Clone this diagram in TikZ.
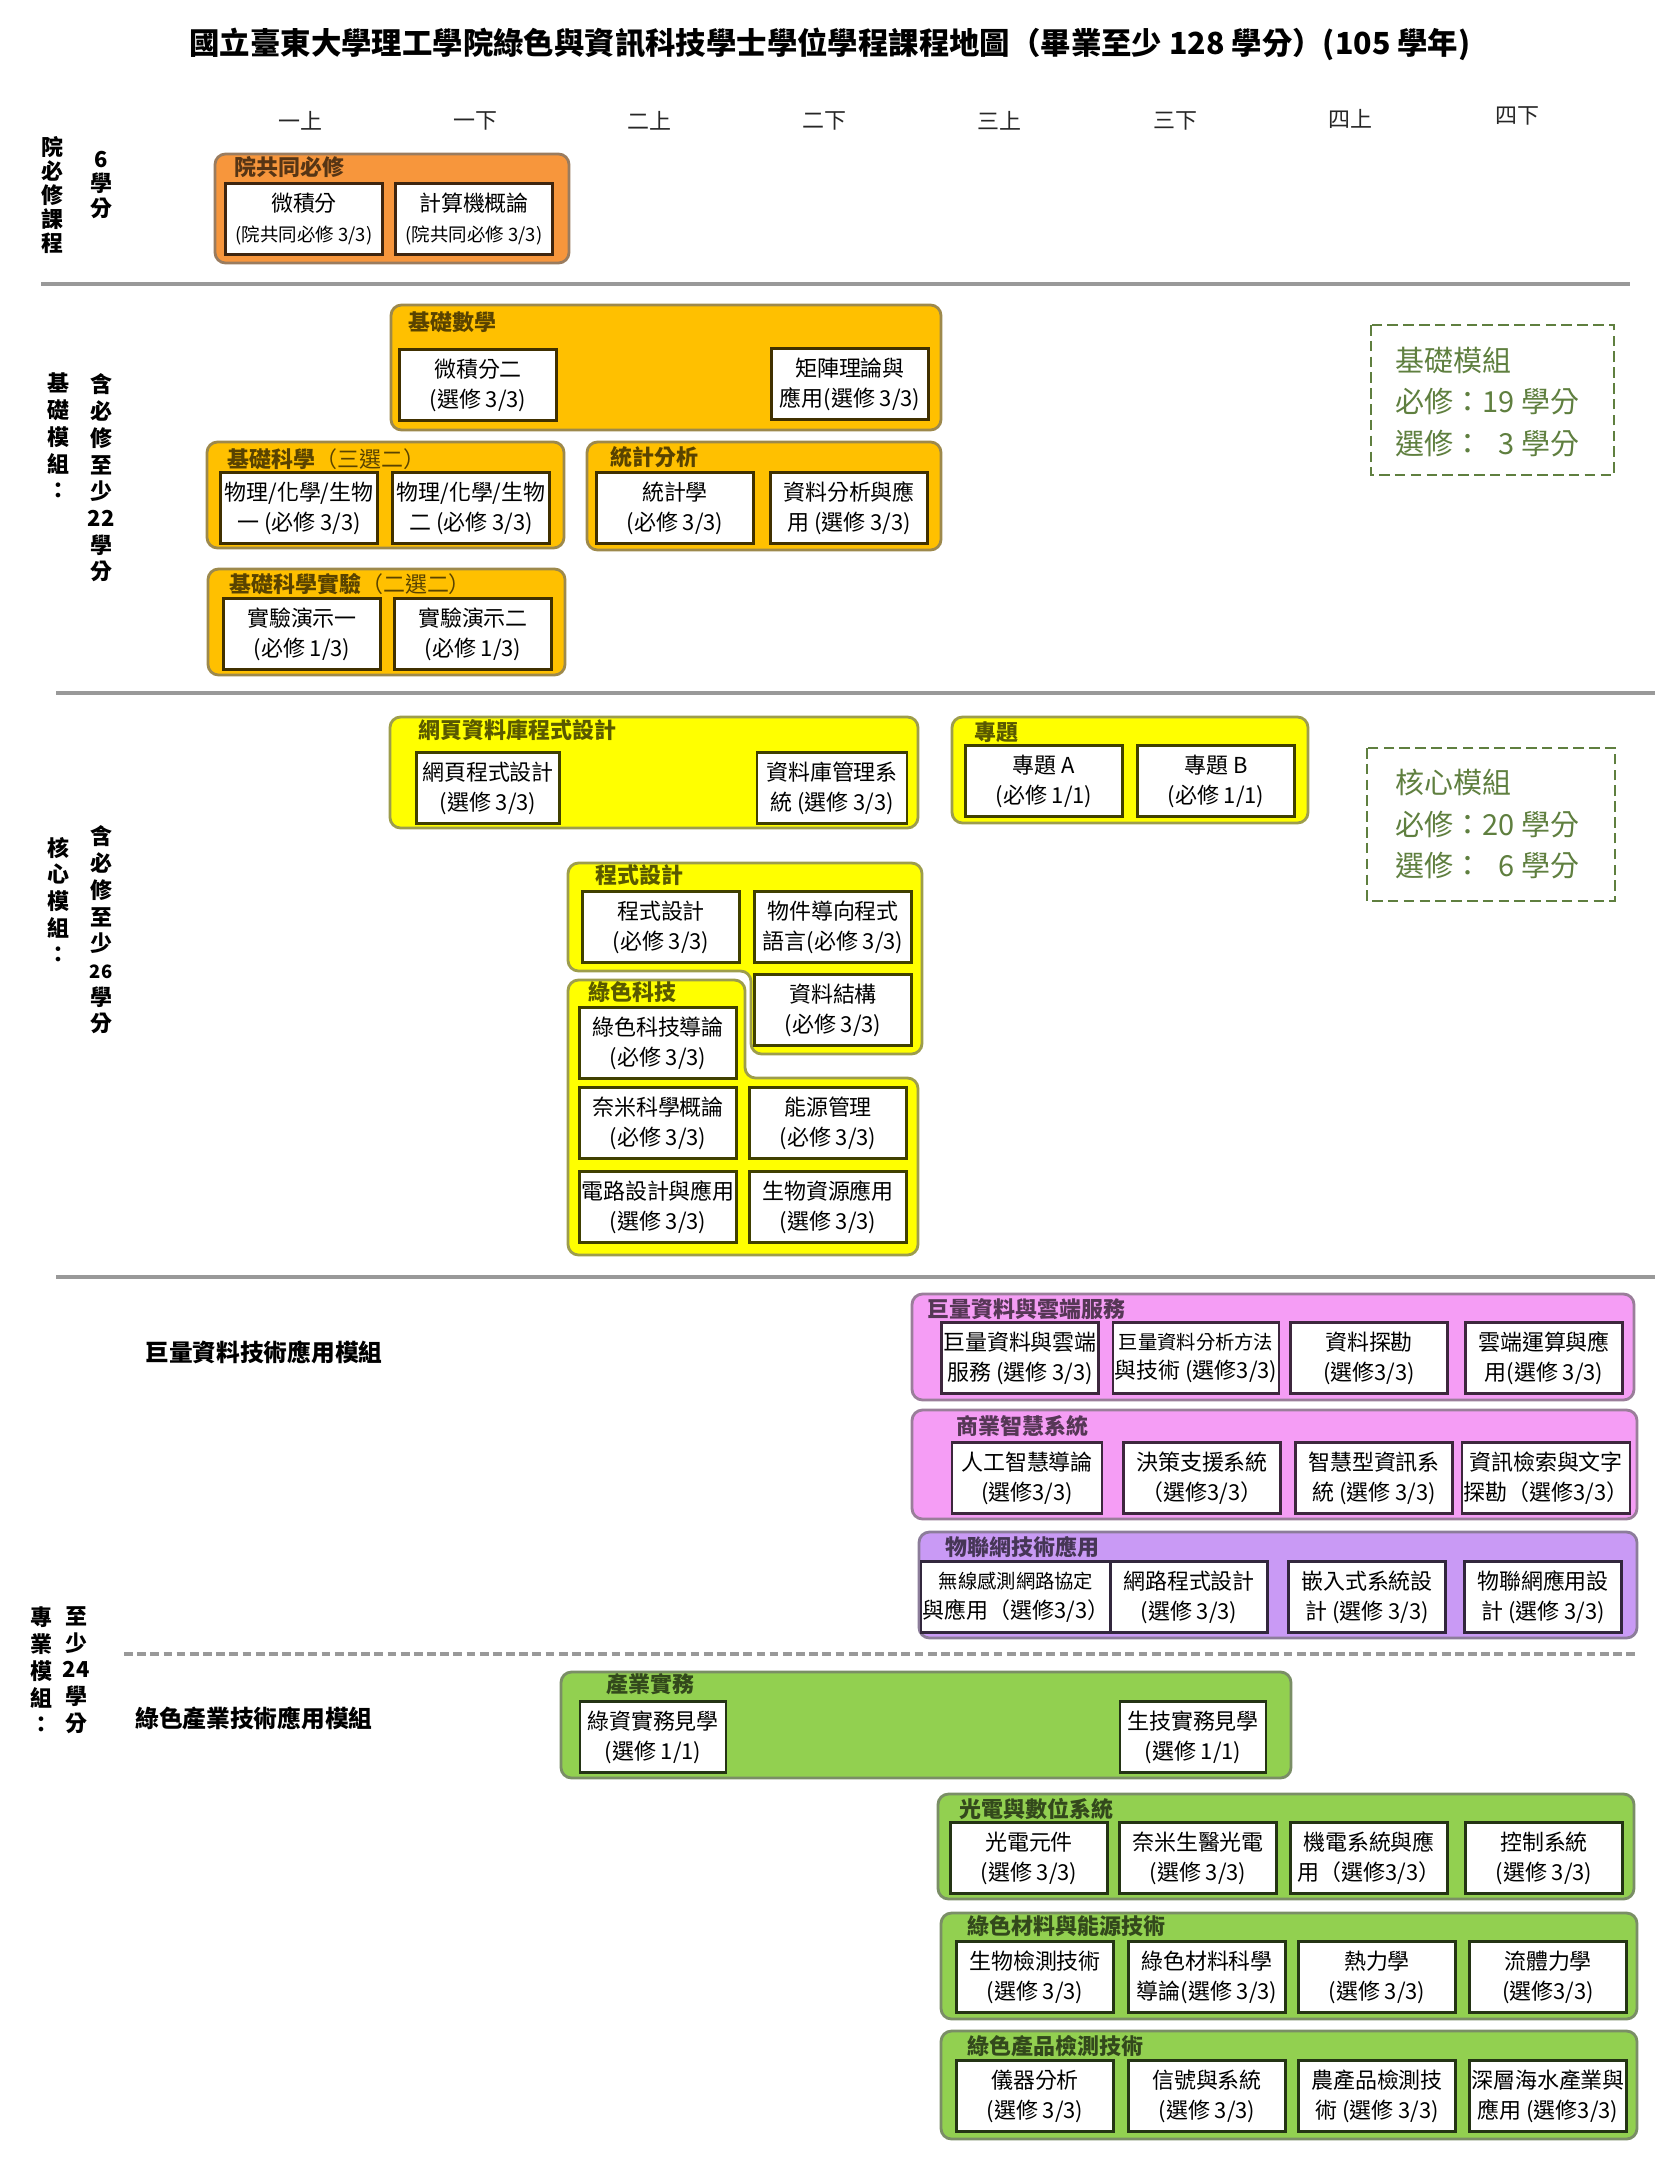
\documentclass[tikz,border=0pt]{standalone}
\usepackage{fontspec}
\setmainfont{Noto Sans CJK TC}

\definecolor{orangeC}{HTML}{F7963C}
\definecolor{goldC}{HTML}{FFC000}
\definecolor{yellowC}{HTML}{FFFF00}
\definecolor{pinkC}{HTML}{F59DF5}
\definecolor{purpleC}{HTML}{C99AF5}
\definecolor{greenC}{HTML}{92D050}
\definecolor{sumgreen}{HTML}{5F7F3F}
\definecolor{linegray}{HTML}{999999}

\tikzset{
	grp/.style={draw=#1!45!black!70, fill=#1, line width=1.6pt, rounded corners=6pt},
	gtitle/.style={anchor=west, inner sep=0pt, text=#1!35!black, font=\bfseries\fontsize{12.5}{15}\selectfont},
	course/.style={draw=#1!25!black, line width=1.4pt, fill=white, minimum width=3.14cm, minimum height=1.42cm, inner sep=1pt, align=center, font=\fontsize{12.5}{17}\selectfont},
	semlab/.style={inner sep=0pt, text=black!85, font=\fontsize{12.5}{15}\selectfont},
	vlab/.style={align=center, inner sep=0pt, font=\bfseries\fontsize{12.5}{#1}\selectfont},
	modlab/.style={anchor=west, inner sep=0pt, font=\bfseries\fontsize{13.5}{16}\selectfont},
	sumbox/.style={draw=sumgreen, line width=1.4pt, dash pattern=on 6pt off 3pt},
	sumtext/.style={anchor=west, align=left, inner sep=0pt, text=sumgreen, font=\fontsize{16.5}{23.8}\selectfont},
	sepline/.style={draw=linegray, line width=2.3pt},
	dashline/.style={draw=linegray, line width=2pt, dash pattern=on 5pt off 2.5pt}
}

\begin{document}
\begin{tikzpicture}[x=0.02cm, y=-0.02cm]
	\fill[white] (0,0) rectangle (1670,2160);
	\useasboundingbox (0,0) rectangle (1670,2160);
	%title
	\node[font=\bfseries\fontsize{17.3}{20}\selectfont] (maptitle) at (830,44)
	{國立臺東大學理工學院綠色與資訊科技學士學位學程課程地圖（畢業至少 128 學分）(105 學年)};
	%semesters
	\foreach \s/\x/\y [count=\i] in {一上/300/121,一下/475/121,二上/649/121,二下/824/121,三上/999/121,三下/1175/121,四上/1350/119,四下/1517/116}
	\node[semlab] (sem\i) at (\x,\y) {\s};
	
	%left labels
	\node[vlab=13.6] (side1a) at (52,195) {院\\必\\修\\課\\程};
	\node[vlab=14.2] (side1b) at (101,185) {6\\學\\分};
	\node[vlab=15.2] (side2a) at (58,436) {基\\礎\\模\\組\\：};
	\node[vlab=15.2] (side2b) at (101,478) {含\\必\\修\\至\\少\\22\\學\\分};
	\node[vlab=15.2] (side3a) at (58,900) {核\\心\\模\\組\\：};
	\node[vlab=15.2] (side3b) at (101,930) {含\\必\\修\\至\\少\\{\fontsize{10.5}{12}\selectfont 26}\\學\\分};
	\node[vlab=15.2] (side4a) at (41,1670) {專\\業\\模\\組\\：};
	\node[vlab=15.2] (side4b) at (76,1670) {至\\少\\24\\學\\分};
	\node[modlab] (mod1) at (145,1352) {巨量資料技術應用模組};
	\node[modlab] (mod2) at (135,1718) {綠色產業技術應用模組};
	
	%separators
	\draw[sepline] (41,284) -- (1630,284);
	\draw[sepline] (56,693) -- (1655,693);
	\draw[sepline] (56,1277) -- (1655,1277);
	\draw[dashline] (124,1654) -- (1637,1654);
	
	%summary boxes
	\draw[sumbox] (1371,325) rectangle (1614,475);
	\node[sumtext] (sum1) at (1395,402) {基礎模組\\必修：19 學分\\選修：\phantom{1}3 學分};
	\draw[sumbox] (1367,748) rectangle (1615,901);
	\node[sumtext] (sum2) at (1395,824) {核心模組\\必修：20 學分\\選修：\phantom{2}6 學分};
	
	%院共同必修
	\draw[grp=orangeC] (215,154) rectangle (569,263);
	\node[gtitle=orangeC] (g1) at (234,167) {院共同必修};
	\node[course=orangeC] (yuan1) at (304,219) {微積分\\{\fontsize{10.5}{14}\selectfont(院共同必修 3/3)}};
	\node[course=orangeC] (yuan2) at (474,219) {計算機概論\\{\fontsize{10.5}{14}\selectfont(院共同必修 3/3)}};
	
	%基礎模組
	\draw[grp=goldC] (391,305) rectangle (941,430);
	\node[gtitle=goldC] (g2) at (408,322) {基礎數學};
	\node[course=goldC] (math1) at (478,385) {微積分二\\(選修 3/3)};
	\node[course=goldC] (math2) at (850,384) {矩陣理論與\\應用(選修 3/3)};
	\draw[grp=goldC] (207,442) rectangle (564,548);
	\node[gtitle=goldC] (g3) at (227,459) {基礎科學\textmd{（三選二）}};
	\node[course=goldC] (sci1) at (299,508) {物理/化學/生物\\一 (必修 3/3)};
	\node[course=goldC] (sci2) at (471,508) {物理/化學/生物\\二 (必修 3/3)};
	\draw[grp=goldC] (587,442) rectangle (941,550);
	\node[gtitle=goldC] (g4) at (610,457) {統計分析};
	\node[course=goldC] (stat1) at (675,508) {統計學\\(必修 3/3)};
	\node[course=goldC] (stat2) at (849,508) {資料分析與應\\用 (選修 3/3)};
	\draw[grp=goldC] (208,569) rectangle (565,675);
	\node[gtitle=goldC] (g5) at (229,584) {基礎科學實驗\textmd{（二選二）}};
	\node[course=goldC] (lab1) at (302,634) {實驗演示一\\(必修 1/3)};
	\node[course=goldC] (lab2) at (473,634) {實驗演示二\\(必修 1/3)};
	
	%核心模組
	\draw[grp=yellowC] (390,717) rectangle (918,828);
	\node[gtitle=yellowC] (g6) at (418,730) {網頁資料庫程式設計};
	\node[course=yellowC, minimum width=2.86cm] (web1) at (488,788) {網頁程式設計\\(選修 3/3)};
	\node[course=yellowC, minimum width=3cm] (web2) at (832,788) {資料庫管理系\\統 (選修 3/3)};
	\draw[grp=yellowC] (952,717) rectangle (1308,823);
	\node[gtitle=yellowC] (g7) at (974,732) {專題};
	\node[course=yellowC] (proj1) at (1044,781) {專題 A\\(必修 1/1)};
	\node[course=yellowC] (proj2) at (1216,781) {專題 B\\(必修 1/1)};
	\draw[grp=yellowC] (568,863) -- (922,863) -- (922,1054) -- (751,1054) -- (751,971) -- (568,971) -- cycle;
	\node[gtitle=yellowC] (g8) at (595,875) {程式設計};
	\node[course=yellowC] (prog1) at (661,927) {程式設計\\(必修 3/3)};
	\node[course=yellowC] (prog2) at (833,927) {物件導向程式\\語言(必修 3/3)};
	\node[course=yellowC] (prog3) at (833,1010) {資料結構\\(必修 3/3)};
	\draw[grp=yellowC] (568,980) -- (745,980) -- (745,1078) -- (918,1078) -- (918,1255) -- (568,1255) -- cycle;
	\node[gtitle=yellowC] (g9) at (588,992) {綠色科技};
	\node[course=yellowC] (grn1) at (658,1043) {綠色科技導論\\(必修 3/3)};
	\node[course=yellowC] (grn2) at (658,1123) {奈米科學概論\\(必修 3/3)};
	\node[course=yellowC] (grn3) at (828,1123) {能源管理\\(必修 3/3)};
	\node[course=yellowC] (grn4) at (658,1207) {電路設計與應用\\(選修 3/3)};
	\node[course=yellowC] (grn5) at (828,1207) {生物資源應用\\(選修 3/3)};
	
	%巨量資料技術應用模組
	\draw[grp=pinkC] (912,1294) rectangle (1634,1400);
	\node[gtitle=pinkC] (g10) at (927,1309) {巨量資料與雲端服務};
	\node[course=pinkC] (big1) at (1020,1358) {巨量資料與雲端\\服務 (選修 3/3)};
	\node[course=pinkC] (big2) at (1196,1358) {{\fontsize{11}{17}\selectfont 巨量資料分析方法}\\與技術 (選修3/3)};
	\node[course=pinkC] (big3) at (1369,1358) {資料探勘\\(選修3/3)};
	\node[course=pinkC] (big4) at (1544,1358) {雲端運算與應\\用(選修 3/3)};
	\draw[grp=pinkC] (912,1410) rectangle (1637,1519);
	\node[gtitle=pinkC] (g11) at (956,1426) {商業智慧系統};
	\node[course=pinkC, minimum width=3cm] (bi1) at (1027,1478) {人工智慧導論\\(選修3/3)};
	\node[course=pinkC] (bi2) at (1202,1478) {決策支援系統\\（選修3/3）};
	\node[course=pinkC] (bi3) at (1374,1478) {智慧型資訊系\\統 (選修 3/3)};
	\node[course=pinkC] (bi4) at (1546,1478) {資訊檢索與文字\\探勘（選修3/3）};
	\draw[grp=purpleC] (919,1532) rectangle (1637,1638);
	\node[gtitle=purpleC] (g12) at (945,1547) {物聯網技術應用};
	\node[course=purpleC] (iot1) at (1016,1597) {{\fontsize{11}{17}\selectfont 無線感測網路協定}\\與應用（選修3/3）};
	\node[course=purpleC] (iot2) at (1189,1597) {網路程式設計\\(選修 3/3)};
	\node[course=purpleC] (iot3) at (1367,1597) {嵌入式系統設\\計 (選修 3/3)};
	\node[course=purpleC] (iot4) at (1543,1597) {物聯網應用設\\計 (選修 3/3)};
	
	%綠色產業技術應用模組
	\draw[grp=greenC] (561,1672) rectangle (1291,1778);
	\node[gtitle=greenC] (g13) at (606,1684) {產業實務};
	\node[course=greenC, minimum width=2.92cm] (ind1) at (653,1737) {綠資實務見學\\(選修 1/1)};
	\node[course=greenC, minimum width=2.92cm] (ind2) at (1193,1737) {生技實務見學\\(選修 1/1)};
	\draw[grp=greenC] (938,1794) rectangle (1634,1899);
	\node[gtitle=greenC] (g14) at (959,1809) {光電與數位系統};
	\node[course=greenC] (opt1) at (1029,1858) {光電元件\\(選修 3/3)};
	\node[course=greenC] (opt2) at (1198,1858) {奈米生醫光電\\(選修 3/3)};
	\node[course=greenC] (opt3) at (1369,1858) {機電系統與應\\用（選修3/3）};
	\node[course=greenC] (opt4) at (1544,1858) {控制系統\\(選修 3/3)};
	\draw[grp=greenC] (941,1913) rectangle (1637,2019);
	\node[gtitle=greenC] (g15) at (967,1926) {綠色材料與能源技術};
	\node[course=greenC] (mat1) at (1035,1977) {生物檢測技術\\(選修 3/3)};
	\node[course=greenC] (mat2) at (1207,1977) {綠色材料科學\\導論(選修 3/3)};
	\node[course=greenC] (mat3) at (1377,1977) {熱力學\\(選修 3/3)};
	\node[course=greenC] (mat4) at (1548,1977) {流體力學\\(選修3/3)};
	\draw[grp=greenC] (941,2031) rectangle (1637,2139);
	\node[gtitle=greenC] (g16) at (967,2046) {綠色產品檢測技術};
	\node[course=greenC] (chk1) at (1035,2096) {儀器分析\\(選修 3/3)};
	\node[course=greenC] (chk2) at (1207,2096) {信號與系統\\(選修 3/3)};
	\node[course=greenC] (chk3) at (1377,2096) {農產品檢測技\\術 (選修 3/3)};
	\node[course=greenC] (chk4) at (1548,2096) {深層海水產業與\\應用 (選修3/3)};
\end{tikzpicture}
\end{document}
